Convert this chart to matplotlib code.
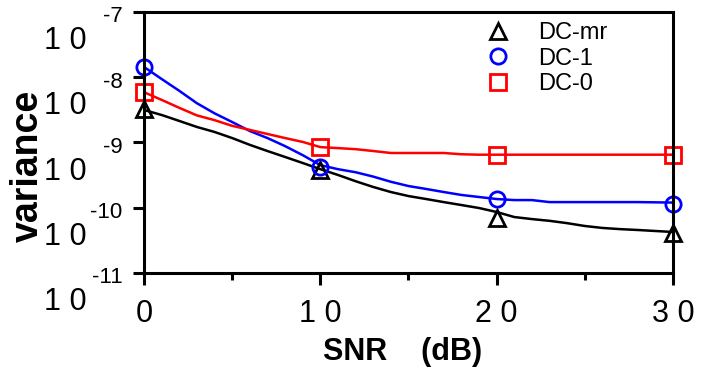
import numpy as np
import matplotlib
matplotlib.use('Agg')
import matplotlib.pyplot as plt
from matplotlib.ticker import NullLocator

plt.rcParams['font.family'] = ['Liberation Sans', 'DejaVu Sans']

# SNR grid of the simulated curves (dB)
snr = [0, 1, 2, 3, 4, 5, 6, 7, 8, 9, 10, 11, 12, 13, 14, 15,
       16, 17, 18, 19, 20, 21, 22, 23, 24, 25, 26, 27, 28, 29, 30]

# variance curves
var_mr = [3.15e-9, 2.64e-9, 2.14e-9, 1.73e-9, 1.45e-9, 1.17e-9, 9.2e-10, 7.4e-10,
          6.0e-10, 4.85e-10, 3.9e-10, 3.18e-10, 2.55e-10, 2.08e-10, 1.74e-10, 1.51e-10,
          1.36e-10, 1.22e-10, 1.10e-10, 9.9e-11, 8.6e-11, 7.2e-11, 6.7e-11, 6.3e-11,
          5.8e-11, 5.25e-11, 4.9e-11, 4.7e-11, 4.56e-11, 4.4e-11, 4.25e-11]
var_dc1 = [1.44e-8, 9.4e-9, 6.2e-9, 4.0e-9, 2.8e-9, 2.06e-9, 1.5e-9, 1.17e-9,
           8.8e-10, 6.4e-10, 4.5e-10, 3.9e-10, 3.5e-10, 3.0e-10, 2.5e-10, 2.15e-10,
           1.94e-10, 1.74e-10, 1.57e-10, 1.46e-10, 1.36e-10, 1.31e-10, 1.31e-10, 1.22e-10,
           1.22e-10, 1.22e-10, 1.22e-10, 1.22e-10, 1.22e-10, 1.21e-10, 1.2e-10]
var_dc0 = [5.9e-9, 4.5e-9, 3.4e-9, 2.6e-9, 2.2e-9, 1.8e-9, 1.56e-9, 1.35e-9,
           1.17e-9, 1.02e-9, 8.5e-10, 8.2e-10, 7.9e-10, 7.4e-10, 6.9e-10, 6.9e-10,
           6.9e-10, 6.9e-10, 6.6e-10, 6.5e-10, 6.5e-10, 6.5e-10, 6.5e-10, 6.5e-10,
           6.5e-10, 6.5e-10, 6.5e-10, 6.5e-10, 6.5e-10, 6.5e-10, 6.5e-10]

# marker points
snr_mk = [0, 10, 20, 30]
mk_mr = [3.26e-9, 3.8e-10, 7.0e-11, 4.1e-11]
mk_dc1 = [1.44e-8, 4.2e-10, 1.36e-10, 1.14e-10]
mk_dc0 = [5.9e-9, 8.5e-10, 6.4e-10, 6.4e-10]

labels = ['DC-mr', 'DC-1', 'DC-0']
xtick_labels = ['0', '1 0', '2 0', '3 0']
ytick_exps = [-7, -8, -9, -10, -11]

fig = plt.figure(figsize=(7.12, 3.71), dpi=100)
ax = fig.add_axes([0.2022, 0.2642, 0.7430, 0.7035])

ax.plot(snr, var_mr, color='black', lw=1.8)
ax.plot(snr, var_dc1, color='blue', lw=1.8)
ax.plot(snr, var_dc0, color='red', lw=1.8)

mk_style = dict(linestyle='none', markersize=11, markeredgewidth=2, markerfacecolor='none', clip_on=False)
h1, = ax.plot(snr_mk, mk_mr, marker='^', color='black', label=labels[0], **mk_style)
h2, = ax.plot(snr_mk, mk_dc1, marker='o', color='blue', label=labels[1], **mk_style)
h3, = ax.plot(snr_mk, mk_dc0, marker='s', color='red', label=labels[2], **mk_style)

ax.set_yscale('log')
ax.set_xlim(0, 30)
ax.set_ylim(1e-11, 1e-7)

# x ticks
ax.set_xticks(snr_mk)
ax.set_xticks([5, 15, 25], minor=True)
ax.set_xticklabels(xtick_labels, fontsize=22)
ax.tick_params(axis='x', which='major', length=8.5, width=2.2, pad=10)
ax.tick_params(axis='x', which='minor', length=5, width=2.2)

# y ticks: "1 0" with the exponent drawn separately
ax.set_yticks([10.0 ** e for e in ytick_exps])
ax.yaxis.set_minor_locator(NullLocator())
ax.set_yticklabels([])
ax.tick_params(axis='y', which='major', length=8, width=2.2)
ytr = ax.get_yaxis_transform()
for e in ytick_exps:
    ax.annotate('1 0', xy=(0, 10.0 ** e), xycoords=ytr, xytext=(-41, -21),
                textcoords='offset points', ha='right', va='center', fontsize=22,
                annotation_clip=False)
    ax.annotate(str(e), xy=(0, 10.0 ** e), xycoords=ytr, xytext=(-15.5, -3.5),
                textcoords='offset points', ha='right', va='center', fontsize=16,
                annotation_clip=False)

for s in ax.spines.values():
    s.set_linewidth(2.2)

fig.text(323 / 712, 1 - 360 / 371, 'SNR    (dB)', fontsize=22, fontweight='bold',
         ha='left', va='baseline')
fig.text(28 / 712, 1 - 166 / 371, 'variance', fontsize=27, fontweight='bold',
         rotation=90, ha='center', va='center')

ax.legend(handles=[h1, h2, h3], loc='upper left', bbox_to_anchor=(0.6465, 0.9617),
          frameon=False, fontsize=17, borderpad=0, handlelength=1.0,
          handletextpad=1.2, labelspacing=0.15, borderaxespad=0)

fig.savefig('out.png', dpi=100)
